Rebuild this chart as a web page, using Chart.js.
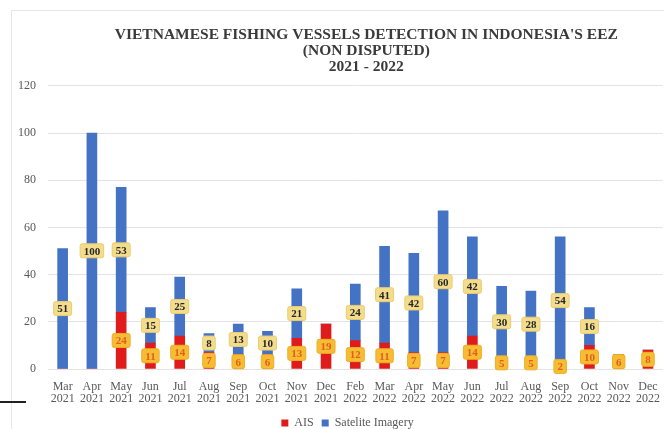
<!DOCTYPE html>
<html>
<head>
<meta charset="utf-8">
<script src="https://cdn.jsdelivr.net/npm/chart.js@4/dist/chart.umd.min.js"></script>
<style>
  html, body { margin: 0; padding: 0; background: #fff; overflow: hidden; }
  #wrap { position: relative; width: 664px; height: 429px; }
  #card { position: absolute; left: 11px; top: 10px; width: 660px; height: 430px;
          border-left: 1px solid #e6e6e6; border-top: 1px solid #e6e6e6; }
  #mark { position: absolute; left: 0; top: 401px; width: 26px; height: 2px; background: #222; }
  canvas { position: absolute; left: 0; top: 0; }
</style>
</head>
<body>
<div id="wrap">
  <div id="card"></div>
  <div id="mark"></div>
  <canvas id="vesselChart" width="664" height="429"></canvas>
</div>
<script>
// months (two-line labels)
const months = [
  ['Mar', '2021'], ['Apr', '2021'], ['May', '2021'], ['Jun', '2021'], ['Jul', '2021'],
  ['Aug', '2021'], ['Sep', '2021'], ['Oct', '2021'], ['Nov', '2021'], ['Dec', '2021'],
  ['Feb', '2022'], ['Mar', '2022'], ['Apr', '2022'], ['May', '2022'], ['Jun', '2022'],
  ['Jul', '2022'], ['Aug', '2022'], ['Sep', '2022'], ['Oct', '2022'], ['Nov', '2022'],
  ['Dec', '2022']
];
const aisValues = [0, 0, 24, 11, 14, 7, 6, 6, 13, 19, 12, 11, 7, 7, 14, 5, 5, 2, 10, 6, 8];
const satValues = [51, 100, 53, 15, 25, 8, 13, 10, 21, 0, 24, 41, 42, 60, 42, 30, 28, 54, 16, 0, 0];
const yTicks = [0, 20, 40, 60, 80, 100, 120];

const serif = "'Liberation Serif', 'Times New Roman', serif";

// little boxed value labels in the middle of each segment
const boxLabels = {
  id: 'boxLabels',
  afterLayout(chart) {
    // title and legend in the original sit a bit right of centre
    chart.titleBlock.left += 22;
    chart.legend.left += 26;
  },
  afterDatasetsDraw(chart) {
    const ctx = chart.ctx;
    ctx.save();
    ctx.font = 'bold 11px ' + serif;
    ctx.textAlign = 'center';
    ctx.textBaseline = 'middle';
    chart.data.datasets.forEach((ds, di) => {
      const meta = chart.getDatasetMeta(di);
      meta.data.forEach((bar, i) => {
        const v = ds.data[i];
        if (!v) return;
        const cy = (bar.y + bar.base) / 2;
        const w = ctx.measureText(String(v)).width + 7;
        const h = 14;
        ctx.fillStyle = ds.boxFill;
        ctx.strokeStyle = ds.boxLine;
        ctx.lineWidth = 1;
        ctx.beginPath();
        ctx.roundRect(bar.x - w / 2, cy - h / 2, w, h, 2);
        ctx.fill();
        ctx.stroke();
        ctx.fillStyle = ds.boxText;
        ctx.fillText(String(v), bar.x, cy + 1);
      });
    });
    ctx.restore();
  }
};

const ctx = document.getElementById('vesselChart').getContext('2d');
new Chart(ctx, {
  type: 'bar',
  data: {
    labels: months,
    datasets: [
      {
        label: 'AIS',
        data: aisValues,
        backgroundColor: '#e01b1b',
        barThickness: 10,
        boxFill: '#f6bc35',
        boxLine: '#eeb020',
        boxText: '#e0601a'
      },
      {
        label: 'Satelite Imagery',
        data: satValues,
        backgroundColor: '#4472c4',
        barThickness: 10,
        boxFill: '#f3dc8c',
        boxLine: '#e9cd6e',
        boxText: '#262626'
      }
    ]
  },
  options: {
    responsive: false,
    animation: false,
    layout: { padding: { left: 6, right: 1, top: 0, bottom: -10 } },
    scales: {
      x: {
        stacked: true,
        grid: { display: false },
        border: { display: false },
        ticks: { color: '#595959', font: { family: serif, size: 12, lineHeight: 1.0 }, padding: 4, maxRotation: 0, autoSkip: false }
      },
      y: {
        stacked: true,
        min: 0,
        max: 120,
        afterBuildTicks: (axis) => { axis.ticks = yTicks.map(v => ({ value: v })); },
        grid: { color: '#e3e3e3', drawTicks: false },
        border: { display: false },
        ticks: { color: '#595959', font: { family: serif, size: 12 }, padding: 12 }
      }
    },
    plugins: {
      title: {
        display: true,
        fullSize: false,
        text: ["VIETNAMESE FISHING VESSELS DETECTION IN INDONESIA'S EEZ", '(NON DISPUTED)', '2021 - 2022'],
        color: '#3a3a3a',
        font: { family: serif, size: 15.5, weight: 'bold', lineHeight: 1.03 },
        padding: { top: 27, bottom: 11 }
      },
      legend: {
        position: 'bottom',
        labels: {
          color: '#595959',
          font: { family: serif, size: 12 },
          boxWidth: 7,
          boxHeight: 7,
          padding: 8
        }
      },
      tooltip: { enabled: false }
    }
  },
  plugins: [boxLabels]
});
</script>
</body>
</html>
